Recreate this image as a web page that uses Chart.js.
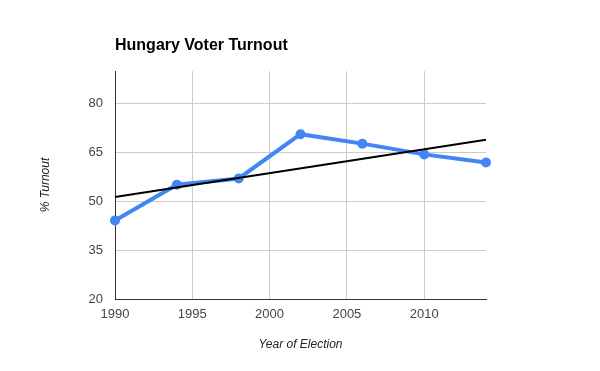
<!DOCTYPE html>
<html>
<head>
<meta charset="utf-8">
<title>Hungary Voter Turnout</title>
<script src="https://cdn.jsdelivr.net/npm/chart.js@4/dist/chart.umd.min.js"></script>
<style>
  html, body { margin: 0; padding: 0; background: #fff; }
  #chart { display: block; }
</style>
</head>
<body>
<canvas id="chart" width="600" height="371"></canvas>
<script>
/* ── Data ── */
const years    = [1990, 1994, 1998, 2002, 2006, 2010, 2014];
const turnout  = [44.1, 55.1, 57.0, 70.6, 67.7, 64.4, 61.9];
const trendX   = [1990, 2014];
const trendY   = [51.3, 68.9];
const yTicks   = [20, 35, 50, 65, 80];
const xTicks   = [1990, 1995, 2000, 2005, 2010];

const FONT = 'Arial, "Liberation Sans", sans-serif';

/* ── Title drawn at the chart area's left edge ── */
const titlePlugin = {
  id: 'leftTitle',
  afterDraw(chart) {
    const ctx = chart.ctx;
    ctx.save();
    ctx.font = 'bold 16px ' + FONT;
    ctx.fillStyle = '#000';
    ctx.textBaseline = 'alphabetic';
    ctx.fillText('Hungary Voter Turnout', chart.chartArea.left, 50);
    ctx.restore();
  },
};

new Chart(document.getElementById('chart'), {
  type: 'line',
  data: {
    datasets: [
      {
        label: 'Trend',
        data: trendX.map((x, i) => ({ x, y: trendY[i] })),
        borderColor: '#000',
        borderWidth: 2,
        pointRadius: 0,
        fill: false,
        clip: false,
      },
      {
        label: 'Turnout',
        data: years.map((x, i) => ({ x, y: turnout[i] })),
        borderColor: '#4285f4',
        backgroundColor: '#4285f4',
        borderWidth: 4,
        pointRadius: 5,
        pointBorderWidth: 0,
        fill: false,
        clip: false,
      },
    ],
  },
  options: {
    responsive: false,
    animation: false,
    layout: { padding: { top: 71, right: 114, bottom: 0, left: 0 } },
    plugins: {
      legend: { display: false },
      tooltip: { enabled: false },
    },
    scales: {
      x: {
        type: 'linear',
        min: 1990,
        max: 2014,
        afterBuildTicks: s => { s.ticks = xTicks.map(v => ({ value: v })); },
        afterFit: s => { s.height = 72; },
        grid: {
          color: ctx => ctx.tick && ctx.tick.value === 1990 ? 'rgba(0,0,0,0)' : '#cccccc',
          drawTicks: false,
        },
        border: { color: '#333', width: 1 },
        ticks: {
          color: '#444',
          font: { family: FONT, size: 13 },
          padding: 8,
          maxRotation: 0,
          callback: v => String(v),
        },
        title: {
          display: true,
          text: 'Year of Election',
          color: '#222',
          font: { family: FONT, size: 12, style: 'italic' },
          padding: { top: 0, bottom: 19 },
        },
      },
      y: {
        min: 20,
        max: 90,
        afterBuildTicks: s => { s.ticks = yTicks.map(v => ({ value: v })); },
        afterFit: s => { s.width = 115; },
        grid: {
          color: ctx => ctx.tick && ctx.tick.value === 20 ? 'rgba(0,0,0,0)' : '#cccccc',
          drawTicks: false,
        },
        border: { color: '#333', width: 1 },
        ticks: {
          color: '#444',
          font: { family: FONT, size: 13 },
          padding: 12,
        },
        title: {
          display: true,
          text: '% Turnout',
          color: '#222',
          font: { family: FONT, size: 12, style: 'italic' },
          padding: { top: 38, bottom: 0 },
        },
      },
    },
  },
  plugins: [titlePlugin],
});
</script>
</body>
</html>
